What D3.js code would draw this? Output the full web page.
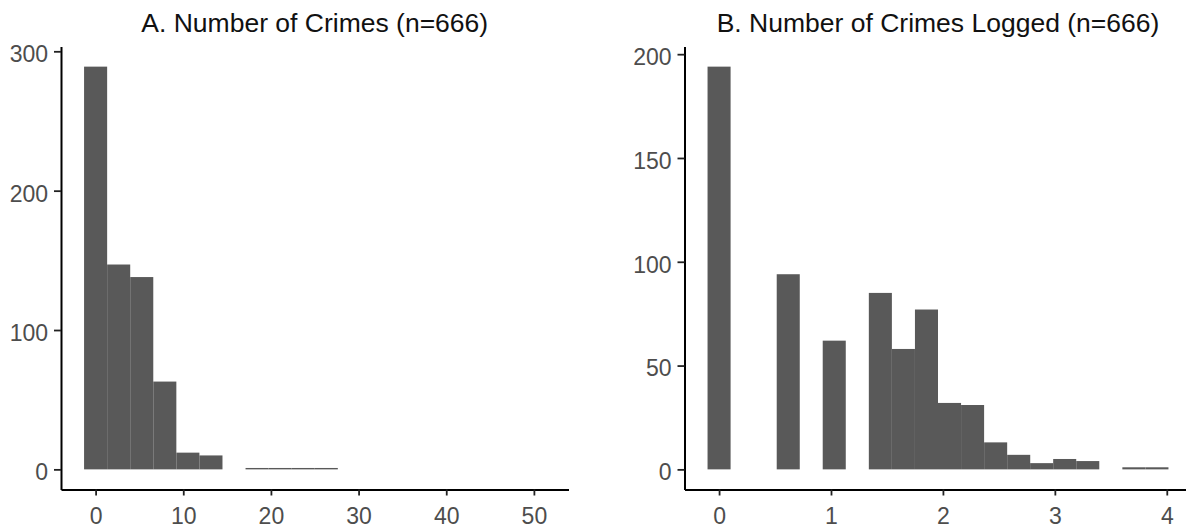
<!DOCTYPE html>
<html lang="en">
<head>
<meta charset="UTF-8">
<title>Number of Crimes</title>
<script src="https://d3js.org/d3.v7.min.js"></script>
<style>
  body { margin: 0; background: #fff; }
  svg { display: block; font-family: "Liberation Sans", Arial, sans-serif; }
</style>
</head>
<body>
<div id="chart"></div>
<script>

// panel A: histogram of number of crimes (bin centres, counts)
var crimeBinWidth = 2.632;
var crimeRange  = [0, 50];   // first and last bin centre
var crimeBins   = [0, 2.632, 5.263, 7.895, 10.526, 13.158, 18.421, 21.053, 23.684, 26.316];
var crimeCounts = [289, 147, 138, 63, 12, 10, 1, 1, 1, 1];
var crimeXTicks = [0, 10, 20, 30, 40, 50];
var crimeYTicks = [0, 100, 200, 300];

// panel B: histogram of logged number of crimes
var logBinWidth = 0.2059;
var logRange  = [0, 3.912];
var logBins   = [0, 0.618, 1.029, 1.441, 1.647, 1.853, 2.059, 2.265, 2.471, 2.677, 2.882, 3.088, 3.294, 3.706, 3.912];
var logCounts = [194, 94, 62, 85, 58, 77, 32, 31, 13, 7, 3, 5, 4, 1, 1];
var logXTicks = [0, 1, 2, 3, 4];
var logYTicks = [0, 50, 100, 150, 200];

var W = 1186, H = 529;
var panelTop = 46.5, panelBottom = 489.5;

var svg = d3.select("#chart").append("svg")
  .attr("width", W)
  .attr("height", H);

function panel(opt) {
  // ggplot style limits: bin range expanded by 5% each side
  var lo = opt.range[0] - opt.bw / 2,
      hi = opt.range[1] + opt.bw / 2,
      pad = (hi - lo) * 0.05;
  var x = d3.scaleLinear()
    .domain([lo - pad, hi + pad])
    .range([opt.left, opt.right]);
  var ymax = d3.max(opt.counts);
  var y = d3.scaleLinear()
    .domain([-ymax * 0.05, ymax * 1.05])
    .range([panelBottom, panelTop]);

  var g = svg.append("g");

  // bars
  g.append("g")
    .selectAll("rect")
    .data(opt.bins)
    .enter()
    .append("rect")
      .attr("x", function(d) { return x(d - opt.bw / 2); })
      .attr("width", function(d) { return x(d + opt.bw / 2) - x(d - opt.bw / 2); })
      .attr("y", function(d, i) { return y(opt.counts[i]); })
      .attr("height", function(d, i) { return y(0) - y(opt.counts[i]); })
      .attr("fill", "#595959");

  // x axis
  var xa = g.append("g")
    .attr("transform", "translate(0," + panelBottom + ")")
    .call(d3.axisBottom(x).tickValues(opt.xTicks).tickFormat(d3.format("d"))
      .tickSizeInner(6).tickSizeOuter(0).tickPadding(12));

  // y axis
  var ya = g.append("g")
    .attr("transform", "translate(" + opt.left + ",0)")
    .call(d3.axisLeft(y).tickValues(opt.yTicks).tickFormat(d3.format("d"))
      .tickSizeInner(7).tickSizeOuter(0).tickPadding(6));

  [xa, ya].forEach(function(a) {
    a.select(".domain").attr("stroke", "#000").attr("stroke-width", 2);
    a.selectAll(".tick line").attr("stroke", "#222").attr("stroke-width", 1.8);
    a.selectAll(".tick text")
      .attr("fill", "#4d4d4d")
      .style("font-size", "23px")
      .style("font-family", "'Liberation Sans', Arial, sans-serif");
  });
  ya.selectAll(".tick text").attr("dy", "0.45em");

  // title
  g.append("text")
    .attr("x", (opt.left + opt.right) / 2)
    .attr("y", 32)
    .attr("text-anchor", "middle")
    .attr("fill", "#111")
    .style("font-size", "26.5px")
    .text(opt.title);
}

panel({
  title: "A. Number of Crimes (n=666)",
  range: crimeRange, bins: crimeBins, counts: crimeCounts, bw: crimeBinWidth,
  xTicks: crimeXTicks, yTicks: crimeYTicks,
  left: 61, right: 568.5
});

panel({
  title: "B. Number of Crimes Logged (n=666)",
  range: logRange, bins: logBins, counts: logCounts, bw: logBinWidth,
  xTicks: logXTicks, yTicks: logYTicks,
  left: 684.5, right: 1191.5
});

</script>
</body>
</html>
